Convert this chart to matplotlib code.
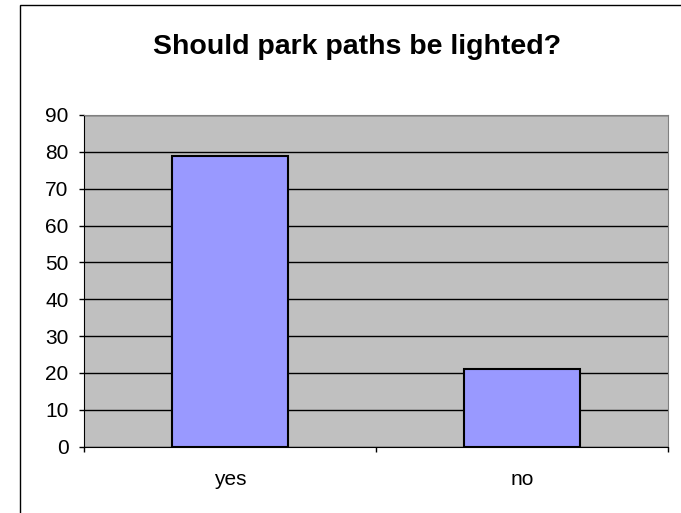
import matplotlib
matplotlib.use('Agg')
import matplotlib.pyplot as plt
from matplotlib.patches import Rectangle

# chart data
categories = ['yes', 'no']
values = [79, 21]
y_ticks = list(range(0, 100, 10))

plt.rcParams['font.family'] = ['Liberation Sans', 'DejaVu Sans']

W, H = 681, 513
fig = plt.figure(figsize=(W / 100, H / 100), dpi=100)

# outer chart frame (runs off the right/bottom edge like the original)
fig.patches.append(Rectangle((20 / W, -0.1), 2.0, (H - 5) / H + 0.1,
                             transform=fig.transFigure, fill=False,
                             edgecolor='black', linewidth=1.0))

left, right, top, bottom = 84, 668, 115, 446.7
ax = fig.add_axes([left / W, (H - bottom) / H, (right - left) / W, (bottom - top) / H])
ax.set_facecolor('#C0C0C0')

x = list(range(len(categories)))
ax.bar(x, values, width=0.4, color='#9999FF', edgecolor='black', linewidth=1.5, zorder=3)

ax.set_xlim(-0.5, len(categories) - 0.5)
ax.set_ylim(0, 90)
ax.set_yticks(y_ticks)
ax.tick_params(axis='y', labelsize=15, length=3.6, width=1, direction='out', pad=7.5)
ax.yaxis.grid(True, color='black', linewidth=1, zorder=1)
ax.set_axisbelow(True)

# category labels between boundary ticks
ax.set_xticks([i - 0.5 for i in range(len(categories) + 1)])
ax.set_xticklabels([])
ax.set_xticks(x, minor=True)
ax.set_xticklabels(categories, minor=True)
ax.tick_params(axis='x', which='major', length=3.6, width=1, direction='out')
ax.tick_params(axis='x', which='minor', length=0, labelsize=15, pad=17)

for side in ['top', 'right']:
    ax.spines[side].set_color('#808080')
ax.spines['left'].set_color('black')
ax.spines['bottom'].set_color('black')

fig.text(357 / W, 1 - 47 / H, 'Should park paths be lighted?', ha='center', va='center',
         fontsize=20.5, fontweight='bold')

fig.savefig('out.png', dpi=100)
